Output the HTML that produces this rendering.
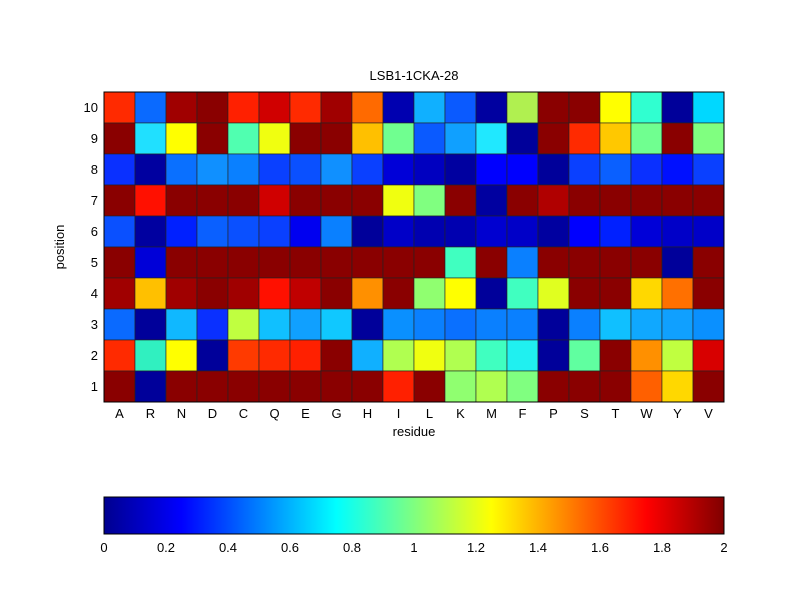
<!DOCTYPE html>
<html><head><meta charset="utf-8"><style>
body{margin:0;background:#fff;width:800px;height:600px;overflow:hidden}
svg text{font-family:"Liberation Sans",Arial,sans-serif;font-size:13px;fill:#000}
</style></head><body>
<svg id="s" width="800" height="600" xmlns="http://www.w3.org/2000/svg">
<defs><linearGradient id="jet" x1="0" x2="1" y1="0" y2="0">
<stop offset="0" stop-color="#00008f"/><stop offset="0.125" stop-color="#0000ff"/>
<stop offset="0.375" stop-color="#00ffff"/><stop offset="0.625" stop-color="#ffff00"/>
<stop offset="0.875" stop-color="#ff0000"/><stop offset="1" stop-color="#800000"/></linearGradient></defs>
<g id="cells"></g>
<rect x="104" y="92" width="620" height="310" fill="none" stroke="#000" stroke-width="1"/>
<text x="414" y="80" text-anchor="middle">LSB1-1CKA-28</text>
<text x="414" y="436" text-anchor="middle">residue</text>
<text x="64" y="247" text-anchor="middle" transform="rotate(-90 64 247)">position</text>
<g id="labels"></g>
<rect x="104" y="497" width="620" height="37" fill="url(#jet)" stroke="#000" stroke-width="1"/>
</svg>
<script>
var D=[
["#ff2a00","#0a6aff","#a00000","#8a0000","#ff2000","#d00000","#ff2a00","#a00000","#ff6a00","#0000b0","#10b0ff","#0a5aff","#0000a0","#b0f050","#8a0000","#8a0000","#ffff00","#30ffd0","#00009a","#00d8ff"],
["#8a0000","#20e0ff","#ffff00","#8a0000","#50ffb0","#f0ff10","#8a0000","#8a0000","#ffc000","#70ff90","#0a5aff","#10a0ff","#20e8ff","#00009a","#8a0000","#ff2a00","#ffc800","#70ff90","#8a0000","#80ff80"],
["#0a30ff","#0000a0","#0a70ff","#1090ff","#0a80ff","#0a40ff","#0a50ff","#1090ff","#0a40ff","#0000d8","#0000c0","#0000a0","#0000ff","#0000ff","#00009a","#0a40ff","#0a60ff","#0a30ff","#0010ff","#0a40ff"],
["#8a0000","#ff1000","#8a0000","#8a0000","#8a0000","#d00000","#8a0000","#8a0000","#8a0000","#f0ff10","#80ff80","#8a0000","#0000a0","#8a0000","#b00000","#8a0000","#8a0000","#8a0000","#8a0000","#8a0000"],
["#0a50ff","#0000a0","#0020ff","#0a60ff","#0a50ff","#0a40ff","#0000f0","#0a80ff","#00009a","#0000c8","#0000b0","#0000b0","#0000d0","#0000c8","#0000a0","#0000ff","#0020ff","#0000d8","#0000c8","#0000c8"],
["#8a0000","#0000d8","#8a0000","#8a0000","#8a0000","#8a0000","#8a0000","#8a0000","#8a0000","#8a0000","#8a0000","#40ffc0","#8a0000","#0a80ff","#8a0000","#8a0000","#8a0000","#8a0000","#00009a","#8a0000"],
["#a00000","#ffc000","#a00000","#8a0000","#a00000","#ff1000","#c00000","#8a0000","#ff9000","#8a0000","#90ff70","#ffff00","#00009a","#40ffc0","#e0ff20","#8a0000","#8a0000","#ffd800","#ff7000","#8a0000"],
["#0a6aff","#00009a","#10b8ff","#0a30ff","#c0ff40","#10c0ff","#10a0ff","#10c8ff","#00009a","#0a90ff","#0a80ff","#0a70ff","#0a80ff","#0a80ff","#00009a","#0a80ff","#10c0ff","#10a8ff","#10a0ff","#0a90ff"],
["#ff2a00","#30f0c0","#ffff00","#00009a","#ff3a00","#ff2a00","#ff2000","#8a0000","#10b0ff","#b0ff50","#f0ff10","#b0ff50","#40ffc0","#20f0f0","#00009a","#60ffa0","#8a0000","#ff9000","#c0ff40","#d80000"],
["#8a0000","#00009a","#8a0000","#8a0000","#8a0000","#8a0000","#8a0000","#8a0000","#8a0000","#ff2000","#8a0000","#90ff70","#b0ff50","#80ff80","#8a0000","#8a0000","#8a0000","#ff6000","#ffd800","#8a0000"]];
var NS="http://www.w3.org/2000/svg",g=document.getElementById("cells"),L=document.getElementById("labels");
function el(p,t,a,txt){var e=document.createElementNS(NS,t);for(var k in a)e.setAttribute(k,a[k]);if(txt!=null)e.textContent=txt;p.appendChild(e);return e;}
for(var r=0;r<10;r++)for(var c=0;c<20;c++)el(g,"rect",{x:104+c*31,y:92+r*31,width:31,height:31,fill:D[r][c],stroke:"#222","stroke-width":0.6});
var res="ARNDCQEGHILKMFPSTWYV".split("");
for(var c=0;c<20;c++)el(L,"text",{x:119.5+c*31,y:418,"text-anchor":"middle"},res[c]);
for(var r=0;r<10;r++)el(L,"text",{x:98,y:112+r*31,"text-anchor":"end"},String(10-r));
var tk=["0","0.2","0.4","0.6","0.8","1","1.2","1.4","1.6","1.8","2"];
for(var i=0;i<11;i++){var x=104+i*62;el(L,"text",{x:x,y:552,"text-anchor":"middle"},tk[i]);
if(i>0&&i<10){el(L,"line",{x1:x,x2:x,y1:497,y2:502,stroke:"#333","stroke-width":1});el(L,"line",{x1:x,x2:x,y1:529,y2:534,stroke:"#333","stroke-width":1});}}
</script>
</body></html>
